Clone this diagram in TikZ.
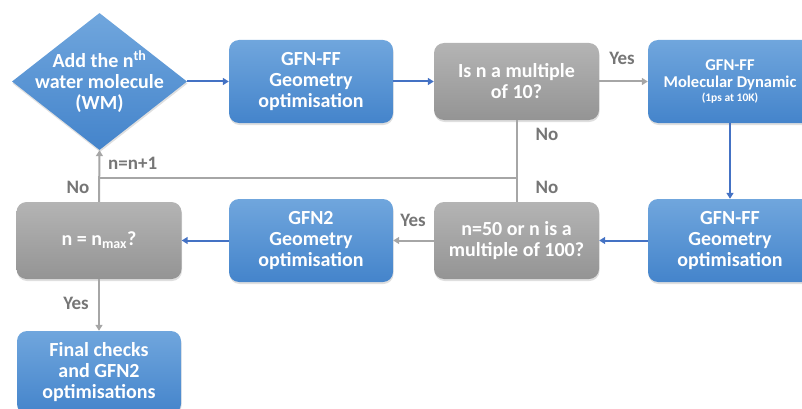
\documentclass[tikz,border=0pt]{standalone}
\usepackage{fontspec}
\setmainfont{Carlito}
\usetikzlibrary{shapes.geometric,arrows.meta,shadows}
\definecolor{boxtop}{RGB}{112,166,221}
\definecolor{boxbot}{RGB}{68,132,203}
\definecolor{greytop}{RGB}{180,180,180}
\definecolor{greybot}{RGB}{148,148,148}
\definecolor{bluearrow}{RGB}{68,114,196}
\definecolor{greyarrow}{RGB}{166,166,166}
\definecolor{labgrey}{RGB}{118,118,118}

\begin{document}
\begin{tikzpicture}[x=1pt,y=-1pt,
  every node/.style={inner sep=0pt, align=center, text=white, font=\bfseries\fontsize{20}{21}\selectfont},
  shade/.style={drop shadow={opacity=0.25, shadow xshift=0.5pt, shadow yshift=-2pt}},
  bluebox/.style={rectangle, rounded corners=10pt, minimum width=164pt, minimum height=83pt, top color=boxtop, bottom color=boxbot, shade},
  greybox/.style={rectangle, rounded corners=10pt, minimum width=165pt, minimum height=77pt, top color=greytop, bottom color=greybot, shade},
  lab/.style={text=labgrey, font=\bfseries\fontsize{19}{20}\selectfont},
  bluearr/.style={draw=bluearrow, line width=2pt, -{Triangle[length=6pt,width=7pt]}},
  greyarr/.style={draw=greyarrow, line width=2pt, -{Triangle[length=6pt,width=7pt]}},
  greyline/.style={draw=greyarrow, line width=2pt}]
\useasboundingbox (0,0) rectangle (802,409);
\node[diamond, minimum width=175pt, minimum height=137pt, top color=boxtop, bottom color=boxbot, shade] (add) at (99.5,81.5) {};
\node (addtxt) at (add.center) {Add the n\textsuperscript{th}\\water molecule\\(WM)};
\node[bluebox] (ffopt) at (311,81.5) {GFN-FF\\Geometry\\optimisation};
\node[greybox] (mult10) at (516.5,81.5) {Is n a multiple\\of 10?};
\node[bluebox, font=\bfseries\fontsize{16.5}{17}\selectfont] (md) at (730,81.5) {GFN-FF\\Molecular Dynamic\\[-3pt]{\fontsize{11.5}{13}\selectfont(1ps at 10K)}};
\node[bluebox] (ffopt2) at (730,240.5) {GFN-FF\\Geometry\\optimisation};
\node[greybox] (mult100) at (516.5,240.5) {n=50 or n is a\\multiple of 100?};
\node[bluebox] (gfn2opt) at (311,240.5) {GFN2\\Geometry\\optimisation};
\node[greybox] (nmax) at (99,240.5) {n = n\textsubscript{max}?};
\node[bluebox] (final) at (99,372.5) {Final checks\\and GFN2\\optimisations};
\coordinate (j1) at (516.5,178);
\coordinate (j2) at (99,178);
\draw[bluearr] (add.east) -- (ffopt.west);
\draw[bluearr] (ffopt.east) -- (mult10.west);
\draw[greyarr] (mult10.east) -- (md.west);
\draw[bluearr] (md.south) -- (ffopt2.north);
\draw[bluearr] (ffopt2.west) -- (mult100.east);
\draw[greyarr] (mult100.west) -- (gfn2opt.east);
\draw[bluearr] (gfn2opt.west) -- (nmax.east);
\draw[greyarr] (nmax.south) -- (final.north);
\draw[greyline] (mult10.south) -- (mult100.north);
\draw[greyline] (j1) -- (j2);
\draw[greyarr] (nmax.north) -- (add.south);
\node[lab] (yes1) at (622,58) {Yes};
\node[lab] (no1) at (547,134) {No};
\node[lab] (no2) at (547,187) {No};
\node[lab] (yes2) at (413,220) {Yes};
\node[lab] (no3) at (78,187) {No};
\node[lab, anchor=west] (incr) at (108,163) {n=n+1};
\node[lab] (yes3) at (76,303) {Yes};
\end{tikzpicture}
\end{document}
